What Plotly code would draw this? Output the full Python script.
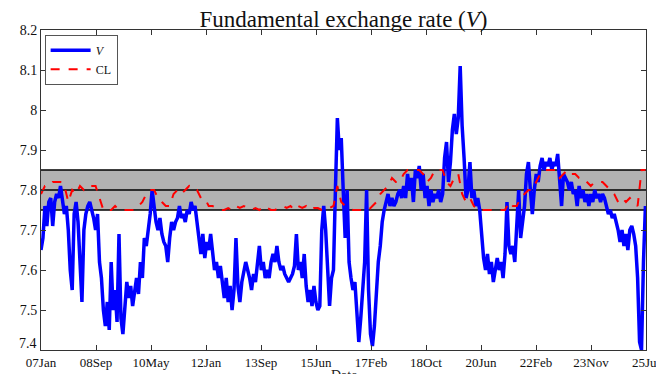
import numpy as np
import plotly.graph_objects as go

# Fundamental exchange rate V (regular sampling)
V = [
    7.65, 7.68, 7.76, 7.71, 7.77, 7.78, 7.71, 7.77, 7.79, 7.78,
    7.81, 7.77, 7.74, 7.76, 7.70, 7.60, 7.55, 7.74, 7.77, 7.72,
    7.62, 7.52, 7.70, 7.74, 7.76, 7.77, 7.75, 7.73, 7.70, 7.74,
    7.62, 7.58, 7.50, 7.46, 7.52, 7.45, 7.62, 7.50, 7.55, 7.47,
    7.69, 7.48, 7.44, 7.52, 7.57, 7.53, 7.56, 7.51, 7.55, 7.58,
    7.54, 7.62, 7.58, 7.68, 7.66, 7.70, 7.74, 7.80, 7.76, 7.72,
    7.70, 7.73, 7.69, 7.67, 7.66, 7.62, 7.68, 7.72, 7.70, 7.72,
    7.73, 7.76, 7.73, 7.74, 7.72, 7.75, 7.74, 7.77, 7.75,
    7.76, 7.72, 7.68, 7.64, 7.69, 7.63, 7.67, 7.65, 7.69, 7.64,
    7.60, 7.62, 7.58, 7.61, 7.57, 7.53, 7.58, 7.52, 7.56, 7.50,
    7.55, 7.68, 7.56, 7.52, 7.57, 7.60, 7.62, 7.60, 7.58, 7.55,
    7.59, 7.57, 7.62, 7.66, 7.60, 7.62, 7.58, 7.60, 7.58, 7.62,
    7.64, 7.62, 7.66, 7.62, 7.60, 7.61, 7.59, 7.58, 7.57, 7.58,
    7.59, 7.61, 7.69, 7.60, 7.62, 7.58, 7.64, 7.56, 7.52, 7.55,
    7.51, 7.56, 7.52, 7.50, 7.51, 7.70, 7.76, 7.70, 7.60, 7.51,
    7.58,
    7.60, 7.80, 7.98, 7.90, 7.93, 7.80, 7.68, 7.80, 7.62, 7.58,
    7.55, 7.57, 7.50, 7.42, 7.48, 7.57, 7.62, 7.80, 7.55, 7.44,
    7.41, 7.46, 7.56, 7.62, 7.66, 7.72, 7.75, 7.77, 7.79, 7.76,
    7.78, 7.76, 7.77, 7.79, 7.80, 7.78, 7.81, 7.78, 7.84, 7.80,
    7.83, 7.77, 7.85, 7.83, 7.86, 7.80, 7.84, 7.78, 7.81, 7.76,
    7.80, 7.77, 7.79, 7.78, 7.80, 7.77, 7.79, 7.88, 7.92, 7.82,
    7.87, 7.95, 7.99, 7.94, 7.98, 8.11, 7.96, 7.88, 7.78, 7.80,
    7.87, 7.78, 7.80, 7.76, 7.78, 7.75, 7.69, 7.63, 7.60, 7.64,
    7.59, 7.62, 7.57, 7.60, 7.63,
    7.60, 7.62, 7.58, 7.64, 7.77, 7.66, 7.64, 7.66, 7.62, 7.70,
    7.80, 7.68, 7.72, 7.76, 7.84, 7.87, 7.80, 7.74, 7.80, 7.84,
    7.82, 7.86, 7.88, 7.85, 7.87, 7.86, 7.88, 7.85, 7.87, 7.86,
    7.89, 7.82, 7.76, 7.84, 7.83, 7.82, 7.80, 7.82, 7.79, 7.80,
    7.76, 7.81, 7.78, 7.80, 7.77, 7.79, 7.76, 7.79, 7.77, 7.80,
    7.78, 7.79, 7.77, 7.79, 7.78, 7.76, 7.74, 7.75, 7.73, 7.74,
    7.72, 7.70, 7.67, 7.70, 7.66, 7.69, 7.65, 7.70, 7.71, 7.69,
    7.66, 7.58, 7.42, 7.40, 7.62, 7.76,
]

# CL series (coarser sampling over the same period)
CL = [
    7.79, 7.81, 7.81, 7.82, 7.82, 7.82, 7.81, 7.77, 7.80, 7.79,
    7.81, 7.80, 7.81, 7.81, 7.81, 7.78, 7.75, 7.75, 7.75, 7.76,
    7.75, 7.75, 7.75, 7.75, 7.75, 7.76, 7.77, 7.79, 7.80, 7.80,
    7.78, 7.77, 7.76, 7.76, 7.79, 7.80, 7.79, 7.80, 7.81, 7.80,
    7.80, 7.78, 7.78, 7.76, 7.76, 7.755, 7.75, 7.75, 7.755, 7.75,
    7.76, 7.755, 7.76, 7.755, 7.75, 7.755, 7.75, 7.76, 7.755, 7.75,
    7.75, 7.755, 7.76, 7.755, 7.76, 7.75, 7.76, 7.755, 7.76, 7.75,
    7.755, 7.755, 7.75, 7.755, 7.755, 7.76, 7.81, 7.77, 7.76, 7.755,
    7.75, 7.75, 7.75, 7.75, 7.75, 7.76, 7.77, 7.79, 7.80, 7.81,
    7.83, 7.82, 7.82, 7.84, 7.85, 7.85, 7.85, 7.85, 7.84, 7.82,
    7.83, 7.85, 7.85, 7.85, 7.82, 7.81, 7.83, 7.84, 7.79, 7.77,
    7.78, 7.76, 7.75, 7.75, 7.75, 7.75, 7.75, 7.75, 7.75, 7.75,
    7.77, 7.76, 7.76, 7.78, 7.79, 7.80, 7.80, 7.82, 7.84, 7.85,
    7.85, 7.85, 7.85, 7.83, 7.84, 7.85, 7.84, 7.84, 7.83, 7.83,
    7.82, 7.81, 7.82, 7.82, 7.82, 7.81, 7.80, 7.79, 7.77, 7.78,
    7.77, 7.78, 7.77, 7.76, 7.85, 7.85,
]

TICK_LABELS = ["07Jan", "08Sep", "10May", "12Jan", "13Sep", "15Jun",
               "17Feb", "18Oct", "20Jun", "22Feb", "23Nov", "25Jul"]
Y_TICKS = [7.4, 7.5, 7.6, 7.7, 7.8, 7.9, 8.0, 8.1, 8.2]
Y_TICK_TEXT = ["7.4", "7.5", "7.6", "7.7", "7.8", "7.9", "8", "8.1", "8.2"]
BAND_LO, BAND_MID, BAND_HI = 7.75, 7.80, 7.85

n = len(V)
t_v = np.arange(n)
t_cl = np.linspace(0, n - 1, len(CL))
x_end = n - 1 + 0.3
tickvals = np.linspace(0, x_end, len(TICK_LABELS))

SERIF = "Liberation Serif, Times New Roman, serif"

fig = go.Figure()
fig.add_trace(go.Scatter(x=t_v, y=V, mode="lines", name="<i>V</i>",
                         line=dict(color="#0000ff", width=3.5)))
fig.add_trace(go.Scatter(x=t_cl, y=CL, mode="lines", name="CL",
                         line=dict(color="#ff0000", width=2, dash="dash")))

fig.add_shape(type="rect", xref="x", yref="y", x0=0, x1=x_end,
              y0=BAND_LO, y1=BAND_HI, fillcolor="#b3b3b3",
              line=dict(width=0), layer="below")
for yv in (BAND_LO, BAND_MID, BAND_HI):
    fig.add_shape(type="line", xref="x", yref="y", x0=0, x1=x_end,
                  y0=yv, y1=yv, line=dict(color="black", width=1.5),
                  layer="below")

# bottom y tick label raised above the x labels (as in the original)
ytext_shown = [("" if v == Y_TICKS[0] else s) for v, s in zip(Y_TICKS, Y_TICK_TEXT)]
fig.add_annotation(text=Y_TICK_TEXT[0], xref="paper", yref="y", x=0,
                   y=Y_TICKS[0], xanchor="right", yanchor="middle",
                   xshift=-2, yshift=7, showarrow=False,
                   font=dict(family=SERIF, size=14, color="#111"))

fig.add_annotation(text="Date", xref="paper", yref="paper", x=0.5, y=0,
                   yshift=-16, yanchor="top", showarrow=False,
                   font=dict(family=SERIF, size=14, color="#222"))

fig.update_layout(
    width=664, height=374,
    margin=dict(l=27, r=16, t=22, b=26),
    paper_bgcolor="white", plot_bgcolor="white",
    title=dict(text="Fundamental exchange rate (<i>V</i>)", x=0.5,
               xref="paper", y=1 - 11 / 374, yref="container",
               yanchor="middle", xanchor="center",
               font=dict(family=SERIF, size=23, color="#111")),
    showlegend=True,
    legend=dict(x=0.006, y=0.985, xanchor="left", yanchor="top",
                bgcolor="white", bordercolor="#555", borderwidth=1,
                font=dict(family=SERIF, size=12, color="#111"),
                itemwidth=40, tracegroupgap=0),
    xaxis=dict(range=[0, x_end], tickvals=tickvals, ticktext=TICK_LABELS,
               showgrid=False, zeroline=False, showline=True,
               linecolor="#333", linewidth=1, mirror="ticks",
               ticks="inside", ticklen=5, tickcolor="#333",
               ticklabeloverflow="allow",
               tickfont=dict(family=SERIF, size=13, color="#111")),
    yaxis=dict(range=[7.4, 8.2], tickvals=Y_TICKS, ticktext=ytext_shown,
               showgrid=False, zeroline=False, showline=True,
               linecolor="#333", linewidth=1, mirror="ticks",
               ticks="inside", ticklen=5, tickcolor="#333",
               tickfont=dict(family=SERIF, size=14, color="#111")),
)

fig.write_html("out.html")
